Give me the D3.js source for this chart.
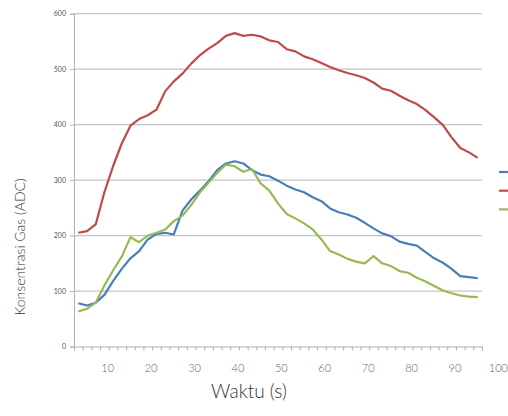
<!DOCTYPE html>
<html>
<head>
<meta charset="utf-8">
<script src="https://cdn.jsdelivr.net/npm/d3@7"></script>
<style>
  html, body { margin: 0; padding: 0; background: #fff; }
  svg { display: block; }
</style>
</head>
<body>
<svg id="chart" width="508" height="416"></svg>
<script>
// Time (s) of each sample
const seconds = [3,5,7,9,11,13,15,17,19,21,23,25,27,29,31,33,35,37,39,41,43,45,47,49,51,53,55,57,59,61,63,65,67,69,71,73,75,77,79,81,83,85,87,89,91,93,95];
// Series values (ADC)
const blueSeries = [78,74,79,93,118,140,159,172,193,203,205,202,245,265,281,298,318,330,334,330,318,310,307,299,290,283,278,269,262,249,242,238,232,223,213,204,199,189,185,182,170,159,151,140,127,125,123];
const redSeries = [205,208,220,278,325,366,398,410,417,427,460,478,492,510,525,537,547,560,565,560,562,559,552,549,536,532,523,518,511,504,498,493,489,484,476,465,461,452,444,437,426,413,399,377,358,350,340];
const greenSeries = [63,68,79,110,137,162,197,188,200,205,211,226,236,255,278,295,313,328,325,315,320,294,281,258,239,231,222,211,193,172,166,158,153,150,163,150,145,136,133,124,117,109,101,96,92,90,89];
const seriesNames = ["Seri 1", "Seri 2", "Seri 3"];
const seriesColors = ["#4a7ebb", "#be4b48", "#98b954"];
const yTicks = [0,100,200,300,400,500,600];
const xTickLabels = [10,20,30,40,50,60,70,80,90,100];
const xMinorTicks = d3.range(2, 97, 2);

const svg = d3.select("#chart");
const font = "Lato, 'Open Sans', sans-serif";

const x = d3.scaleLinear().domain([2, 96]).range([74, 482]);
const y = d3.scaleLinear().domain([0, 600]).range([346.5, 13.7]);

// gridlines
svg.append("g").selectAll("line").data(yTicks.filter(d => d > 0)).join("line")
  .attr("x1", x(2)).attr("x2", x(96))
  .attr("y1", d => y(d)).attr("y2", d => y(d))
  .attr("stroke", "#c4c4c4").attr("stroke-width", 1.2);

// y axis
const yAxis = svg.append("g").attr("transform", `translate(${x(2)},0)`)
  .call(d3.axisLeft(y).tickValues(yTicks).tickSize(4).tickPadding(4).tickFormat(d3.format("d")));
yAxis.select(".domain").attr("stroke", "#b0b0b0");
yAxis.selectAll(".tick line").attr("stroke", "#b0b0b0");
yAxis.selectAll("text").attr("font-family", font).attr("font-size", 7).attr("fill", "#555");

// x axis: minor ticks at sample boundaries
const xAxis = svg.append("g").attr("transform", `translate(0,${y(0)})`)
  .call(d3.axisBottom(x).tickValues(xMinorTicks).tickSize(4).tickFormat(""));
xAxis.select(".domain").attr("stroke", "#b0b0b0");
xAxis.selectAll(".tick line").attr("stroke", "#b0b0b0");

// x tick labels
svg.append("g").selectAll("text").data(xTickLabels).join("text")
  .attr("x", d => x(d) - 1).attr("y", 372)
  .attr("text-anchor", "middle")
  .attr("font-family", font).attr("font-size", 11).attr("font-weight", 300).attr("fill", "#666")
  .text(d => d);

// axis titles
svg.append("text").attr("x", 249).attr("y", 398)
  .attr("text-anchor", "middle").attr("font-family", font).attr("font-weight", 300)
  .attr("font-size", 19).attr("fill", "#333").text("Waktu (s)");
svg.append("text").attr("transform", "translate(25,247) rotate(-90)")
  .attr("text-anchor", "middle").attr("font-family", font).attr("font-weight", 300)
  .attr("font-size", 14).attr("fill", "#333").text("Konsentrasi Gas (ADC)");

// lines
const series = [blueSeries, redSeries, greenSeries];
const line = d3.line().x((d, i) => x(seconds[i])).y(d => y(d));
svg.append("g").selectAll("path").data(series).join("path")
  .attr("d", d => line(d))
  .attr("fill", "none")
  .attr("stroke", (d, i) => seriesColors[i])
  .attr("stroke-width", 2.2)
  .attr("stroke-linejoin", "round");

// legend keys (labels fall outside the picture)
svg.append("g").selectAll("line").data(seriesNames).join("line")
  .attr("x1", 499).attr("x2", 512)
  .attr("y1", (d, i) => 172 + i * 18.7).attr("y2", (d, i) => 172 + i * 18.7)
  .attr("stroke", (d, i) => seriesColors[i]).attr("stroke-width", 2.2);
</script>
</body>
</html>
